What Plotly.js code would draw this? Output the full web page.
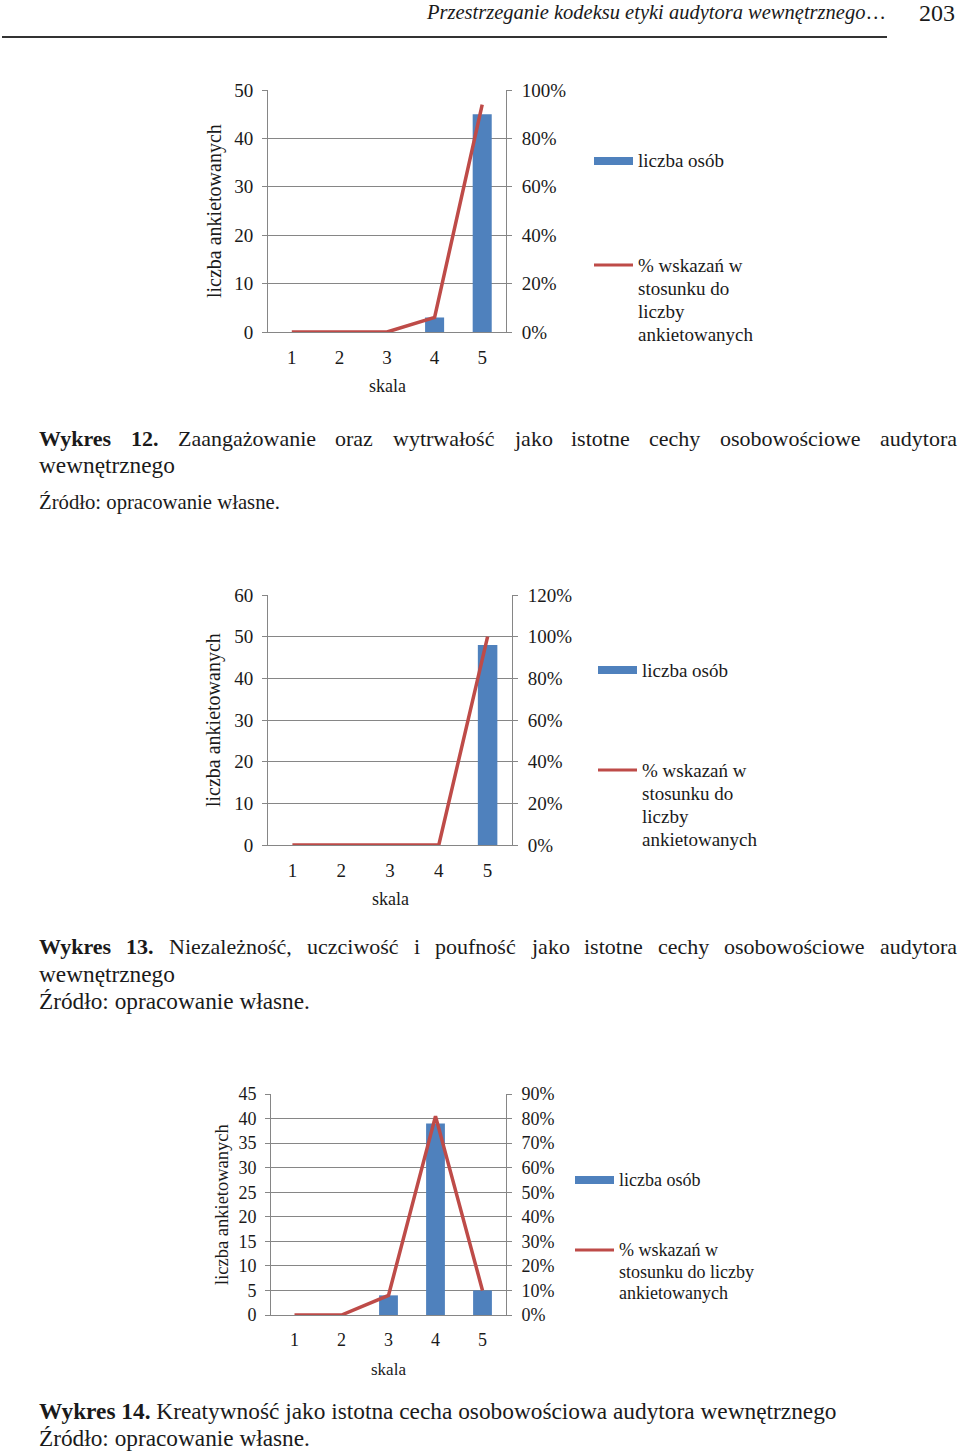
<!DOCTYPE html>
<html>
<head>
<meta charset="utf-8">
<script src="https://cdn.plot.ly/plotly-3.0.1.min.js"></script>
<style>
  body { margin: 0; background: #fff; }
  #wykresy { width: 960px; height: 1452px; }
</style>
</head>
<body>
<div id="wykresy"></div>
<script>
const skala = [1, 2, 3, 4, 5];
const osoby12 = [0, 0, 0, 3, 45];
const proc12 = [0, 0, 0, 0.06, 0.94];
const osoby13 = [0, 0, 0, 0, 48];
const proc13 = [0, 0, 0, 0, 1.0];
const osoby14 = [0, 0, 4, 39, 5];
const proc14 = [0, 0, 0.08, 0.81, 0.10];

const W = 960, H = 1452;
const FONT = '"Liberation Serif", "Times New Roman", serif';
const NIEBIESKI = "#4f81bd";
const CZERWONY = "#be4b48";
const SZARY = "#868686";
const TEKST = "#1a1a1a";

const px = v => v / W;
const py = v => 1 - v / H;

// pomiar tekstu, żeby dopasować szerokość linii do skanu
const ctx = document.createElement("canvas").getContext("2d");
function szer(t, size, bold, italic) {
  ctx.font = (italic ? "italic " : "") + (bold ? "bold " : "") + size + 'px "Liberation Serif"';
  return ctx.measureText(t).width;
}

const annotations = [];
const shapes = [];

function napis(text, x, y, size, opts) {
  annotations.push(Object.assign({
    text: text, x: px(x), y: py(y), xref: "paper", yref: "paper",
    xanchor: "left", yanchor: "middle", showarrow: false, borderpad: 0, borderwidth: 0,
    font: { family: FONT, size: size, color: TEKST }
  }, opts || {}));
}

// linia z pogrubionym początkiem, dopasowana do szerokości
function linia(bold, rest, x0, width, y, justuj) {
  const slowaB = bold ? bold.split(" ") : [];
  const slowaR = rest.split(" ");
  const miar = s => slowaB.reduce((a, w) => a + szer(w, s, true), 0) + slowaR.reduce((a, w) => a + szer(w, s, false), 0);
  const n = slowaB.length + slowaR.length;
  let size = 22;
  const spacja = szer(" ", size, false);
  let nat = miar(size) + spacja * (n - 1);
  if (!justuj || nat > width) size = size * width / nat;
  if (!justuj) {
    const t = (bold ? "<b>" + bold + "</b> " : "") + rest;
    napis(t, x0, y, size);
    return size;
  }
  const przerwa = (width - miar(size)) / (n - 1);
  let x = x0;
  slowaB.forEach(w => { napis("<b>" + w + "</b>", x, y, size); x += szer(w, size, true) + przerwa; });
  slowaR.forEach(w => { napis(w, x, y, size); x += szer(w, size, false) + przerwa; });
  return size;
}

function legenda(x, yB, yR, linieR, size) {
  shapes.push({ type: "rect", xref: "paper", yref: "paper", x0: px(x), x1: px(x + 39),
    y0: py(yB + 4), y1: py(yB - 4), fillcolor: NIEBIESKI, line: { width: 0 } });
  napis("liczba osób", x + 44, yB, size);
  shapes.push({ type: "line", xref: "paper", yref: "paper", x0: px(x), x1: px(x + 39),
    y0: py(yR), y1: py(yR), line: { color: CZERWONY, width: 3 } });
  linieR.forEach((t, i) => napis(t, x + 44, yR + i * (linieR.length === 3 ? 21.5 : 23.3), size));
}

const wykresy = [
  { osoby: osoby12, proc: proc12, x0: 268, x1: 506, yt: 90, yb: 332, max: 50, dt: 10, pmax: 1.0, pdt: 0.2, fs: 19,
    leg: [594, 161, 265, ["% wskazań w", "stosunku do", "liczby", "ankietowanych"]], tyt: [214, 211, 20] },
  { osoby: osoby13, proc: proc13, x0: 268, x1: 512, yt: 595, yb: 845, max: 60, dt: 10, pmax: 1.2, pdt: 0.2, fs: 19,
    leg: [598, 670, 770, ["% wskazań w", "stosunku do", "liczby", "ankietowanych"]], tyt: [213, 720, 20] },
  { osoby: osoby14, proc: proc14, x0: 271, x1: 506, yt: 1094, yb: 1315, max: 45, dt: 5, pmax: 0.9, pdt: 0.1, fs: 18,
    leg: [575, 1180, 1250, ["% wskazań w", "stosunku do liczby", "ankietowanych"]], tyt: [222, 1205, 18.5] }
];

const data = [];
const layout = {
  width: W, height: H, margin: { l: 0, r: 0, t: 0, b: 0 },
  paper_bgcolor: "#fff", plot_bgcolor: "#fff", showlegend: false, bargap: 0.6,
  font: { family: FONT, color: TEKST }
};

wykresy.forEach((w, i) => {
  const xs = i === 0 ? "" : String(i + 1);
  const yl = String(2 * i + 1), yr = String(2 * i + 2);
  const yln = yl === "1" ? "" : yl;
  data.push({ type: "bar", x: skala, y: w.osoby, xaxis: "x" + xs, yaxis: "y" + yln,
    marker: { color: NIEBIESKI }, name: "liczba osób" });
  data.push({ type: "scatter", mode: "lines", x: skala, y: w.proc, xaxis: "x" + xs, yaxis: "y" + yr,
    line: { color: CZERWONY, width: 3.5 }, name: "% wskazań w stosunku do liczby ankietowanych" });
  const dom = [py(w.yb), py(w.yt)];
  layout["xaxis" + xs] = {
    domain: [px(w.x0), px(w.x1)], anchor: "y" + yln, range: [0.5, 5.5],
    tickvals: skala, ticks: "", showgrid: false, zeroline: false,
    showline: true, linecolor: SZARY, linewidth: 1,
    tickfont: { family: FONT, size: w.fs, color: TEKST }, ticklabelstandoff: 8
  };
  layout["yaxis" + yln] = {
    domain: dom, anchor: "x" + xs, range: [0, w.max], dtick: w.dt, tick0: 0,
    showline: true, linecolor: SZARY, ticks: "outside", ticklen: 5, tickcolor: SZARY,
    showgrid: true, gridcolor: SZARY, zeroline: false,
    tickfont: { family: FONT, size: w.fs, color: TEKST }, ticklabelstandoff: 5
  };
  layout["yaxis" + yr] = {
    overlaying: "y" + yln, side: "right", anchor: "x" + xs, range: [0, w.pmax], dtick: w.pdt, tick0: 0,
    tickformat: ".0%", showline: true, linecolor: SZARY, ticks: "outside", ticklen: 5, tickcolor: SZARY,
    showgrid: false, zeroline: false,
    tickfont: { family: FONT, size: w.fs, color: TEKST }, ticklabelstandoff: 6
  };
  napis("skala", (w.x0 + w.x1) / 2, w.yb + 54, w.fs - 1, { xanchor: "center" });
  napis("liczba ankietowanych", w.tyt[0], w.tyt[1], w.tyt[2], { xanchor: "center", textangle: -90 });
  legenda(w.leg[0], w.leg[1], w.leg[2], w.leg[3], w.fs);
});

// nagłówek strony
napis("<i>Przestrzeganie kodeksu etyki audytora wewnętrznego</i>…", 426, 13,
  20 * 457 / szer("Przestrzeganie kodeksu etyki audytora wewnętrznego…", 20, false, true));
napis("203", 955, 0, 24, { xanchor: "right", yanchor: "top" });
shapes.push({ type: "line", xref: "paper", yref: "paper", x0: px(2), x1: px(887), y0: py(37), y1: py(37),
  line: { color: "#333", width: 2 } });

// podpisy wykresów
linia("Wykres 12.", "Zaangażowanie oraz wytrwałość jako istotne cechy osobowościowe audytora", 39, 918, 438, true);
linia("", "wewnętrznego", 39, 136, 465, false);
linia("", "Źródło: opracowanie własne.", 39, 241, 502, false);

linia("Wykres 13.", "Niezależność, uczciwość i poufność jako istotne cechy osobowościowe audytora", 39, 918, 947, true);
linia("", "wewnętrznego", 39, 136, 974, false);
linia("", "Źródło: opracowanie własne.", 39, 271, 1001, false);

linia("Wykres 14.", "Kreatywność jako istotna cecha osobowościowa audytora wewnętrznego", 39, 798, 1411, false);
linia("", "Źródło: opracowanie własne.", 39, 271, 1438, false);

layout.annotations = annotations;
layout.shapes = shapes;

Plotly.newPlot("wykresy", data, layout, { staticPlot: true });
</script>
</body>
</html>
